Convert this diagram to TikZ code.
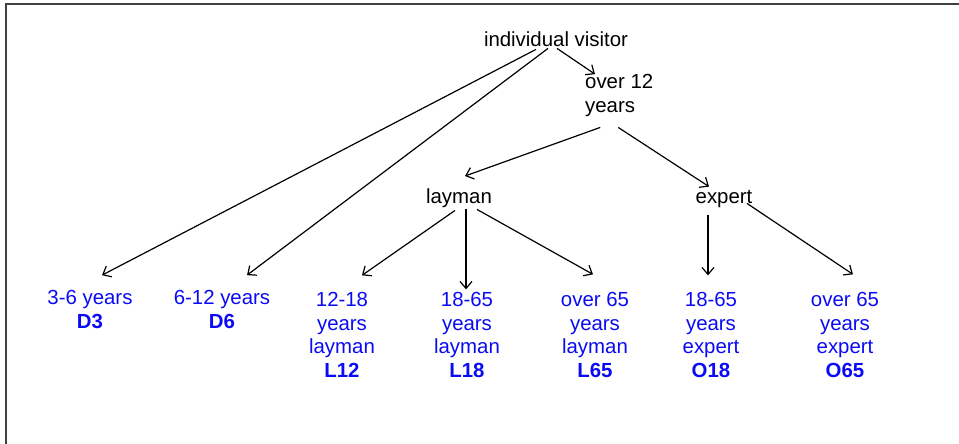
\documentclass[tikz,border=0pt]{standalone}
\usepackage{fontspec}
\setmainfont{Liberation Sans}
\usetikzlibrary{arrows.meta}
\definecolor{leafblue}{RGB}{10,10,245}
\begin{document}
\begin{tikzpicture}[x=1pt,y=-1pt,
  lbl/.style={inner sep=0pt,anchor=base,font=\fontsize{20.4}{23.4}\selectfont},
  leaf/.style={lbl,align=center,text=leafblue},
  link/.style={line width=1.2pt,-{Straight Barb[length=7pt,width=12pt]}}]
\useasboundingbox (0,0) rectangle (959,444);
% frame (top and left edges)
\draw[line width=2pt,draw=black!75] (5.5,444) -- (5.5,4.5) -- (959,4.5);

% inner nodes (multi-line nodes are placed by the baseline of their last line)
\node[lbl] (iv) at (556,47) {individual visitor};
\node[lbl,align=left,anchor=base west] (o12) at (585,112) {over 12\\years};
\node[lbl] (lay) at (459,203) {layman};
\node[lbl] (exp) at (724,203) {expert};

% leaves
\node[leaf] (d3)  at (90,328)  {3-6 years\\\textbf{D3}};
\node[leaf] (d6)  at (222,328) {6-12 years\\\textbf{D6}};
\node[leaf] (l12) at (342,377) {12-18\\years\\layman\\\textbf{L12}};
\node[leaf] (l18) at (467,377) {18-65\\years\\layman\\\textbf{L18}};
\node[leaf] (l65) at (595,377) {over 65\\years\\layman\\\textbf{L65}};
\node[leaf] (o18) at (711,377) {18-65\\years\\expert\\\textbf{O18}};
\node[leaf] (o65) at (845,377) {over 65\\years\\expert\\\textbf{O65}};

% connectors
\draw[link] ([shift={(-20,2)}]iv.south) -- ([shift={(12,-15)}]d3.north);
\draw[link] ([shift={(-8,1)}]iv.south)  -- ([shift={(25,-15)}]d6.north);
\draw[link] ([shift={(1,1)}]iv.south)   -- ([shift={(10,0)}]o12.north west);
\draw[link] ([shift={(-19,11)}]o12.south) -- ([shift={(6,-12)}]lay.north);
\draw[link] ([shift={(-1,11)}]o12.south)  -- ([shift={(-15,-3)}]exp.north);
\draw[link] ([shift={(-4,3)}]lay.south)  -- ([shift={(20,-17)}]l12.north);
\draw[link] ([shift={(7,2)}]lay.south)   -- ([shift={(-1,-3)}]l18.north);
\draw[link] ([shift={(18,2)}]lay.south)  -- ([shift={(-2,-18)}]l65.north);
\draw[link] ([shift={(-16,8)}]exp.south) -- ([shift={(-3,-17)}]o18.north);
\draw[link] ([shift={(23,-4)}]exp.south) -- ([shift={(8,-18)}]o65.north);
\end{tikzpicture}
\end{document}
